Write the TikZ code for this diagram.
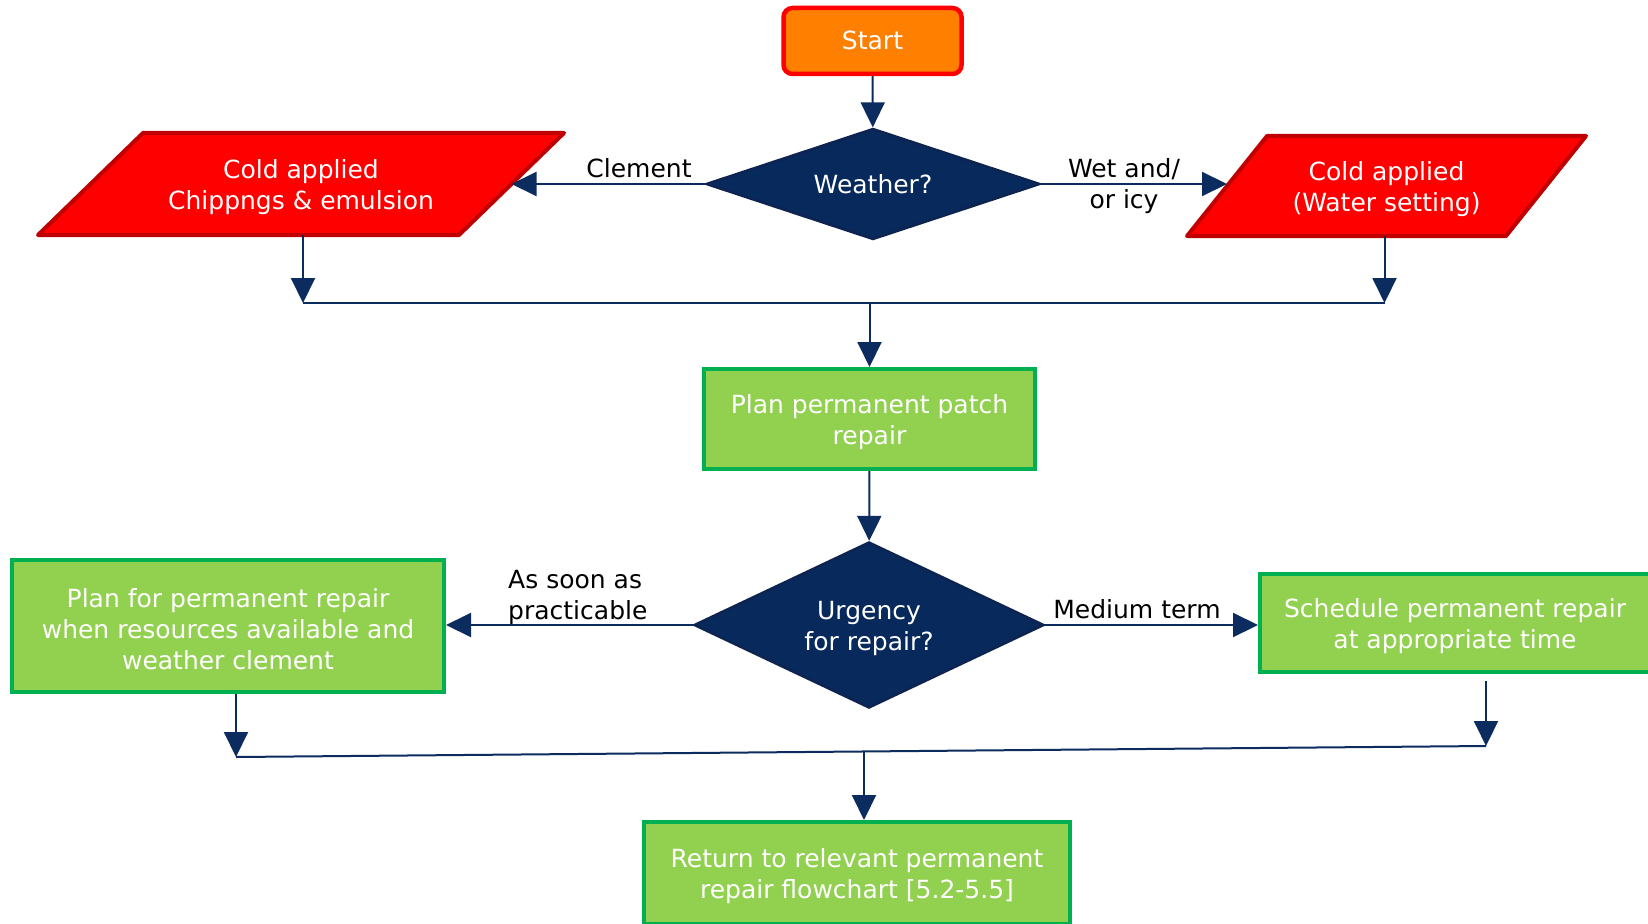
\documentclass[tikz,border=0pt]{standalone}
\usepackage{fontspec}
\setmainfont{DejaVu Sans}
\usetikzlibrary{shapes.geometric,arrows.meta,calc,backgrounds}

\definecolor{linkblue}{HTML}{0C2B5E}
\definecolor{decfill}{HTML}{07295C}
\definecolor{decline}{HTML}{0E2450}
\definecolor{stepfill}{HTML}{92D050}
\definecolor{stepline}{HTML}{00B050}
\definecolor{altfill}{HTML}{FF0000}
\definecolor{altline}{HTML}{C00000}
\definecolor{startfill}{HTML}{FF8000}
\definecolor{startline}{HTML}{FF0000}

% taller first line, so that multi-line texts sit a little lower in their shapes
\newcommand{\fcstrut}{\rule{0pt}{26pt}}

\begin{document}
\begin{tikzpicture}[x=1pt,y=-1pt,
  every node/.style={font=\fontsize{25}{31}\selectfont},
  flow/.style={draw=linkblue,line width=2pt,-{Triangle[length=25pt,width=24pt]}},
  link/.style={draw=linkblue,line width=2pt},
  startbox/.style={rectangle,rounded corners=9pt,fill=startfill,draw=startline,
    line width=4.5pt,text=white,minimum width=178pt,minimum height=66pt},
  stepbox/.style={rectangle,fill=stepfill,draw=stepline,line width=4pt,
    text=white,align=center,inner sep=0pt},
  altbox/.style={rectangle,text=white,align=center,inner sep=0pt,outer sep=0pt},
  altshape/.style={fill=altfill,draw=altline,line width=4pt,line join=round},
  decision/.style={diamond,fill=decfill,draw=decline,line width=2.5pt,
    text=white,align=center,inner sep=0pt,aspect=3},
  tag/.style={text=black,inner sep=0pt}]

\useasboundingbox (0,0) rectangle (1648,923);
\clip (0,0) rectangle (1648,923);
\begin{pgfonlayer}{background}
  \fill[white] (0,0) rectangle (1648,923);
\end{pgfonlayer}

% nodes
\node[startbox] (start) at (872.5,41) {\raisebox{2pt}{Start}};
\node[decision,minimum width=334pt,minimum height=111pt] (weather) at (873,184) {Weather?};
\node[altbox,minimum width=421pt,minimum height=102pt] (chip) at (301,184)
      {\fcstrut Cold applied\\Chippngs \& emulsion};
\node[altbox,minimum width=319pt,minimum height=100pt] (wet) at (1386.5,186)
      {\fcstrut Cold applied\\(Water setting)};
\node[stepbox,minimum width=331pt,minimum height=100pt] (patch) at (869.5,419)
      {\fcstrut Plan permanent patch\\repair};
\node[decision,minimum width=350pt,minimum height=166pt] (urgency) at (869,625)
      {\fcstrut Urgency\\for repair?};
\node[stepbox,minimum width=432pt,minimum height=132pt] (later) at (228,626)
      {\fcstrut Plan for permanent repair\\when resources available and\\weather clement};
\node[stepbox,minimum width=390pt,minimum height=98pt] (sched) at (1455,623)
      {\fcstrut Schedule permanent repair\\at appropriate time};
\node[stepbox,minimum width=426pt,minimum height=102pt] (ret) at (857,873)
      {\fcstrut Return to relevant permanent\\repair flowchart [5.2-5.5]};

% slanted outlines of the two cold-applied options
\begin{pgfonlayer}{background}
  \path[altshape] ([xshift=-52.5pt]chip.south west) -- ([xshift=52.5pt]chip.north west)
    -- ([xshift=52.5pt]chip.north east) -- ([xshift=-52.5pt]chip.south east) -- cycle;
  \path[altshape] ([xshift=-40pt]wet.south west) -- ([xshift=40pt]wet.north west)
    -- ([xshift=40pt]wet.north east) -- ([xshift=-40pt]wet.south east) -- cycle;
\end{pgfonlayer}

% branch labels
\node[tag] (lclement) at (639,168) {Clement};
\node[tag,align=center] (lwet) at (1124,186) {Wet and/\\or icy};
\node[tag,align=left,anchor=west] (lsoon) at (508,597) {As soon as\\practicable};
\node[tag] (lmedium) at (1137,609) {Medium term};

% junction points
\coordinate (jtop) at (0,303);
\coordinate (jl) at (236,757);
\coordinate (jr) at (1486,746);
\coordinate (jm) at (864,751.5);

% connectors
\draw[flow] (start) -- (weather);
\draw[flow] (weather.west) -- (weather.west -| chip.east);
\draw[flow] (weather.east) -- (weather.east -| wet.west);
\draw[flow] ([xshift=2pt]chip.south) -- ([xshift=2pt]chip.south |- jtop);
\draw[flow] ([xshift=-2pt]wet.south) -- ([xshift=-2pt]wet.south |- jtop);
\draw[link] ([xshift=2pt]chip.south |- jtop) -- ([xshift=-2pt]wet.south |- jtop);
\draw[flow] (patch.north |- jtop) -- (patch.north);
\draw[flow] (patch) -- (urgency);
\draw[flow] (urgency.west) -- (urgency.west -| later.east);
\draw[flow] (urgency.east) -- (urgency.east -| sched.west);
\draw[flow] (later.south -| jl) -- (jl);
\draw[flow] ([yshift=-7pt]sched.south -| jr) -- (jr);
\draw[link] (jl) -- (jr);
\draw[flow] (jm) -- (jm |- ret.north);

\end{tikzpicture}
\end{document}
